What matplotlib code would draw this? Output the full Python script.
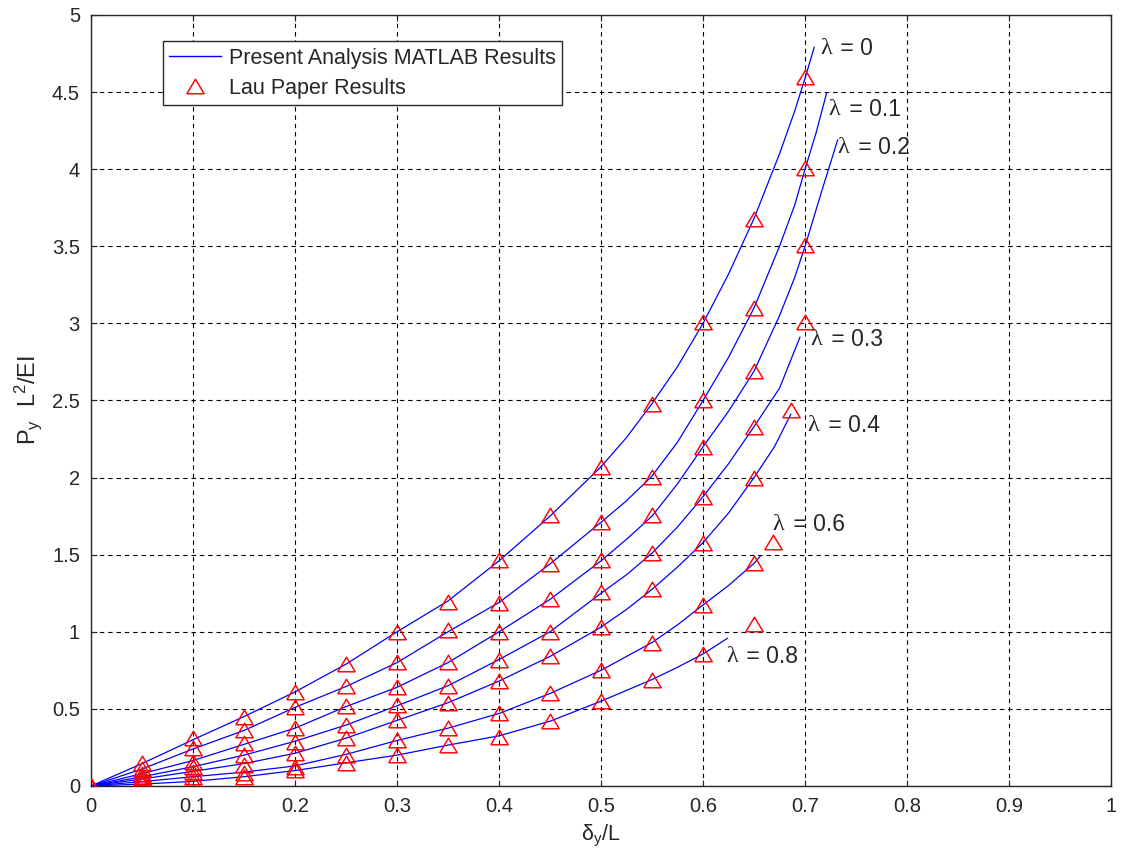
import matplotlib
matplotlib.use("Agg")
import matplotlib.pyplot as plt
from matplotlib.lines import Line2D

plt.rcParams['font.family'] = ['Liberation Sans', 'DejaVu Sans']
plt.rcParams['mathtext.fontset'] = 'custom'
plt.rcParams['mathtext.rm'] = 'Liberation Sans'
plt.rcParams['mathtext.it'] = 'Liberation Sans'
plt.rcParams['mathtext.bf'] = 'Liberation Sans:bold'

# ---------------- data ----------------
lambda_labels = ['0', '0.1', '0.2', '0.3', '0.4', '0.6', '0.8']

# Lau paper results (deflection ratio, load parameter)
lau_x_full = [0, 0.05, 0.10, 0.15, 0.20, 0.25, 0.30, 0.35, 0.40, 0.45, 0.50, 0.55, 0.60, 0.65, 0.70]
lau_x_l04 = [0, 0.05, 0.10, 0.15, 0.20, 0.25, 0.30, 0.35, 0.40, 0.45, 0.50, 0.55, 0.60, 0.65, 0.686]
lau_x_l06 = [0, 0.05, 0.10, 0.15, 0.20, 0.25, 0.30, 0.35, 0.40, 0.45, 0.50, 0.55, 0.60, 0.65, 0.669]
lau_x_l08 = [0, 0.05, 0.10, 0.15, 0.20, 0.25, 0.30, 0.35, 0.40, 0.45, 0.50, 0.55, 0.60, 0.65]

lau_l00 = [0, 0.147, 0.309, 0.45, 0.61, 0.79, 1.00, 1.195, 1.466, 1.757, 2.07, 2.48, 3.01, 3.68, 4.60]
lau_l01 = [0, 0.11, 0.244, 0.363, 0.514, 0.648, 0.806, 1.01, 1.189, 1.44, 1.714, 2.006, 2.50, 3.10, 4.01]
lau_l02 = [0, 0.08, 0.158, 0.277, 0.374, 0.519, 0.644, 0.806, 1.00, 1.21, 1.466, 1.757, 2.20, 2.69, 3.51]
lau_l03 = [0, 0.06, 0.125, 0.20, 0.287, 0.396, 0.525, 0.648, 0.82, 1.00, 1.26, 1.509, 1.876, 2.33, 3.01]
lau_l04 = [0, 0.05, 0.093, 0.136, 0.212, 0.31, 0.428, 0.54, 0.68, 0.84, 1.03, 1.278, 1.578, 2.00, 2.44]
lau_l06 = [0, 0.03, 0.06, 0.082, 0.125, 0.20, 0.298, 0.374, 0.47, 0.60, 0.75, 0.93, 1.174, 1.444, 1.584]
lau_l08 = [0, 0.01, 0.028, 0.06, 0.104, 0.15, 0.20, 0.266, 0.32, 0.42, 0.55, 0.69, 0.856, 1.05]

# Present analysis (MATLAB) curves
cur_x_l00 = [0, 0.05, 0.10, 0.15, 0.20, 0.25, 0.30, 0.35, 0.40, 0.45, 0.50, 0.525, 0.55, 0.575, 0.60, 0.625, 0.65, 0.675, 0.69, 0.70, 0.709]
cur_l00 = [0, 0.145, 0.30, 0.45, 0.61, 0.79, 1.00, 1.20, 1.46, 1.75, 2.07, 2.26, 2.48, 2.72, 3.00, 3.32, 3.68, 4.10, 4.38, 4.59, 4.79]
cur_x_l01 = [0, 0.05, 0.10, 0.15, 0.20, 0.25, 0.30, 0.35, 0.40, 0.45, 0.50, 0.525, 0.55, 0.575, 0.60, 0.625, 0.65, 0.675, 0.69, 0.70, 0.711, 0.721]
cur_l01 = [0, 0.11, 0.24, 0.36, 0.51, 0.645, 0.80, 1.00, 1.19, 1.44, 1.71, 1.85, 2.01, 2.23, 2.50, 2.78, 3.10, 3.50, 3.77, 4.00, 4.24, 4.49]
cur_x_l02 = [0, 0.05, 0.10, 0.15, 0.20, 0.25, 0.30, 0.35, 0.40, 0.45, 0.50, 0.525, 0.55, 0.575, 0.60, 0.625, 0.65, 0.675, 0.69, 0.70, 0.716, 0.732]
cur_l02 = [0, 0.08, 0.165, 0.27, 0.375, 0.515, 0.64, 0.80, 1.00, 1.21, 1.46, 1.60, 1.75, 1.96, 2.20, 2.43, 2.69, 3.05, 3.30, 3.50, 3.85, 4.19]
cur_x_l03 = [0, 0.05, 0.10, 0.15, 0.20, 0.25, 0.30, 0.35, 0.40, 0.45, 0.50, 0.525, 0.55, 0.575, 0.60, 0.625, 0.65, 0.675, 0.695]
cur_l03 = [0, 0.06, 0.125, 0.20, 0.29, 0.395, 0.52, 0.65, 0.82, 1.00, 1.25, 1.37, 1.51, 1.68, 1.876, 2.09, 2.33, 2.58, 2.91]
cur_x_l04 = [0, 0.05, 0.10, 0.15, 0.20, 0.25, 0.30, 0.35, 0.40, 0.45, 0.50, 0.525, 0.55, 0.575, 0.60, 0.625, 0.65, 0.67, 0.686]
cur_l04 = [0, 0.045, 0.095, 0.145, 0.212, 0.31, 0.425, 0.54, 0.68, 0.84, 1.03, 1.145, 1.275, 1.42, 1.578, 1.77, 2.00, 2.20, 2.41]
cur_x_l06 = [0, 0.05, 0.10, 0.15, 0.20, 0.25, 0.30, 0.35, 0.40, 0.45, 0.50, 0.55, 0.575, 0.60, 0.625, 0.65, 0.656]
cur_l06 = [0, 0.028, 0.06, 0.09, 0.13, 0.205, 0.295, 0.375, 0.47, 0.60, 0.75, 0.93, 1.045, 1.174, 1.30, 1.444, 1.49]
cur_x_l08 = [0, 0.05, 0.10, 0.15, 0.20, 0.25, 0.30, 0.35, 0.40, 0.45, 0.50, 0.55, 0.575, 0.60, 0.624]
cur_l08 = [0, 0.012, 0.03, 0.06, 0.10, 0.15, 0.20, 0.265, 0.325, 0.42, 0.55, 0.69, 0.77, 0.856, 0.958]

x_ticks = [0, 0.1, 0.2, 0.3, 0.4, 0.5, 0.6, 0.7, 0.8, 0.9, 1]
x_tick_labels = ['0', '0.1', '0.2', '0.3', '0.4', '0.5', '0.6', '0.7', '0.8', '0.9', '1']
y_ticks = [0, 0.5, 1, 1.5, 2, 2.5, 3, 3.5, 4, 4.5, 5]
y_tick_labels = ['0', '0.5', '1', '1.5', '2', '2.5', '3', '3.5', '4', '4.5', '5']

# label anchor positions (left edge, vertical centre) for each lambda curve
label_pos = [(0.7147, 4.784), (0.7232, 4.384), (0.7321, 4.142), (0.7056, 2.897),
             (0.7026, 2.336), (0.6683, 1.693), (0.6225, 0.838)]

curves = [(cur_x_l00, cur_l00), (cur_x_l01, cur_l01), (cur_x_l02, cur_l02),
          (cur_x_l03, cur_l03), (cur_x_l04, cur_l04), (cur_x_l06, cur_l06),
          (cur_x_l08, cur_l08)]
lau = [(lau_x_full, lau_l00), (lau_x_full, lau_l01), (lau_x_full, lau_l02),
       (lau_x_full, lau_l03), (lau_x_l04, lau_l04), (lau_x_l06, lau_l06),
       (lau_x_l08, lau_l08)]

# ---------------- figure ----------------
fig = plt.figure(figsize=(11.25, 8.52), dpi=100)
ax = fig.add_axes([0.0809, 0.0775, 0.9067, 0.9049])

tri = [(-1, -0.84), (1, -0.84), (0, 0.84), (-1, -0.84)]
blue = '#0000ff'
red = '#ff0000'
ink = '#262626'

for cx, cy in curves:
    ax.plot(cx, cy, color=blue, lw=0.9, zorder=3)
for lx, ly in lau:
    ax.plot(lx, ly, linestyle='none', marker=tri, markersize=12.5,
            markerfacecolor='none', markeredgecolor=red, markeredgewidth=1.05,
            zorder=4)

ax.set_xlim(0, 1)
ax.set_ylim(0, 5)
ax.set_xticks(x_ticks)
ax.set_xticklabels(x_tick_labels)
ax.set_yticks(y_ticks)
ax.set_yticklabels(y_tick_labels)
ax.tick_params(direction='in', length=4, width=0.8, top=True, right=True,
               labelsize=14.5, pad=8, colors=ink)
ax.tick_params(axis='x', pad=8)
ax.grid(True, color='black', linestyle=(0, (4, 3.5)), linewidth=0.8)
ax.set_axisbelow(True)
for sp in ax.spines.values():
    sp.set_linewidth(1.0)
    sp.set_color(ink)

ax.set_xlabel(r'$\mathregular{\delta_y/L}$', fontsize=15.5, labelpad=5, color=ink)
ax.set_ylabel(r'$\mathregular{P_y\ \ L^2/EI}$', fontsize=17, labelpad=6, color=ink)

# curve annotations: serif lambda followed by sans-serif value
for lab, (tx, ty) in zip(lambda_labels, label_pos):
    ax.text(tx, ty, '\u03bb', family=['Liberation Serif', 'DejaVu Serif'],
            fontsize=17.5, va='center', ha='left', color=ink, zorder=5)
    ax.annotate(' = ' + lab, xy=(tx, ty), xytext=(10.0, 0), textcoords='offset points',
                fontsize=16.5, va='center', ha='left', color=ink, zorder=5)

handles = [
    Line2D([], [], color=blue, lw=1.0),
    Line2D([], [], linestyle='none', marker=tri, markersize=12.5,
           markerfacecolor='none', markeredgecolor=red, markeredgewidth=1.05),
]
leg = ax.legend(handles, ['Present Analysis MATLAB Results', 'Lau Paper Results'],
                loc='upper left', bbox_to_anchor=(0.0706, 0.966), fontsize=15.5,
                frameon=True, fancybox=False, framealpha=1, edgecolor=ink,
                handlelength=2.4, handletextpad=0.35, borderpad=0.3,
                labelspacing=0.42, borderaxespad=0)
leg.get_frame().set_linewidth(1.0)
for t in leg.get_texts():
    t.set_color(ink)

fig.savefig('out.png', dpi=100)
